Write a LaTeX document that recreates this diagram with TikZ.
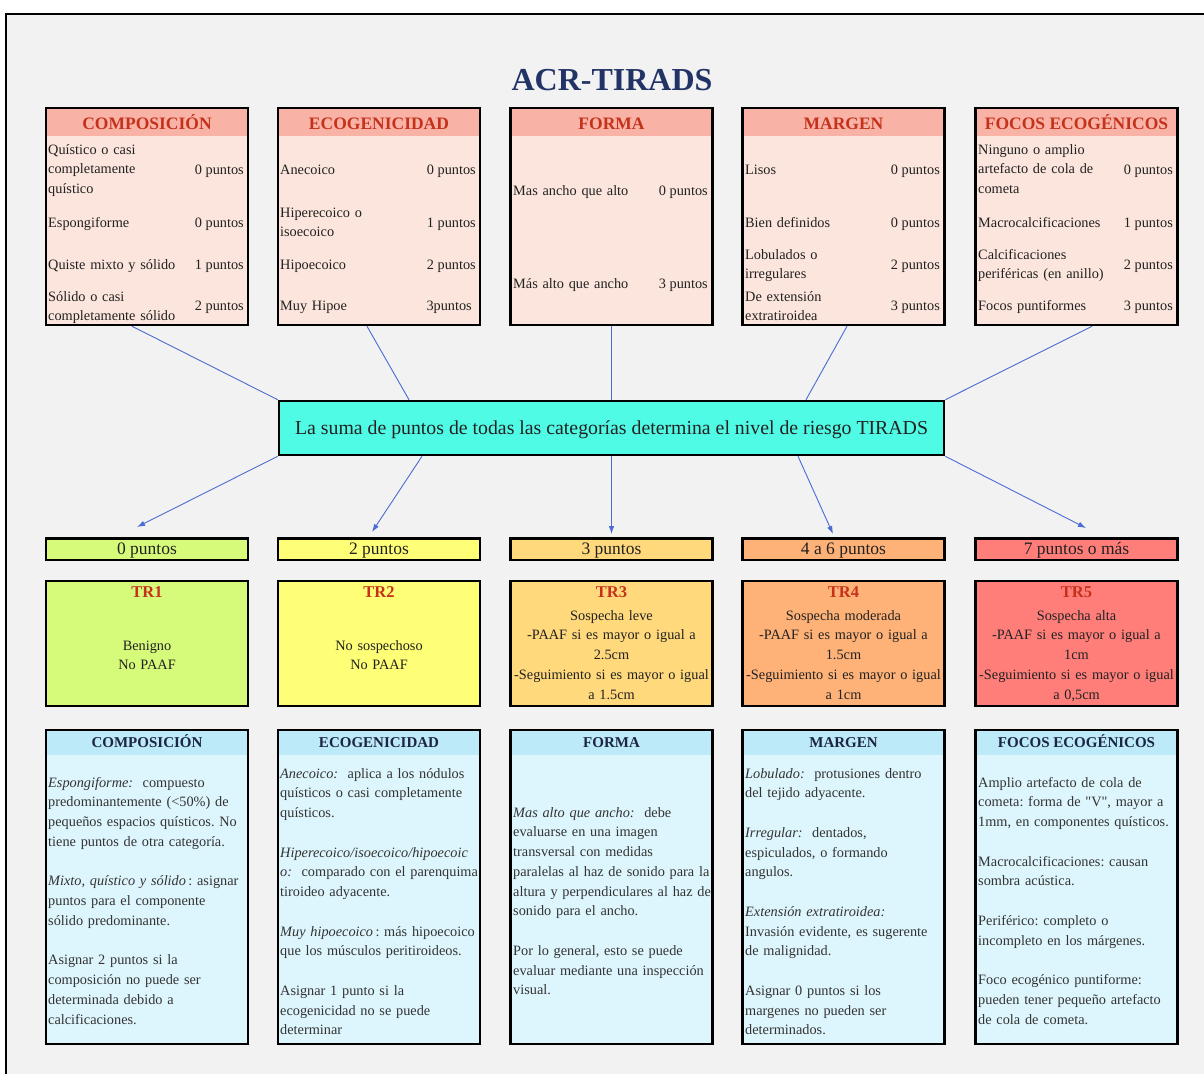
\documentclass[tikz,border=0pt]{standalone}
\usepackage{fontspec}
\setmainfont{Liberation Serif}[Ligatures=TeXOff]
\usetikzlibrary{arrows.meta}
\frenchspacing

\definecolor{bggray}{HTML}{F2F2F2}
\definecolor{cathead}{HTML}{F9B3A6}
\definecolor{catbody}{HTML}{FBE5DC}
\definecolor{hdred}{HTML}{C5321C}
\definecolor{titlenavy}{HTML}{223466}
\definecolor{sumcyan}{HTML}{50FBE6}
\definecolor{linkblue}{HTML}{4A6CD4}
\definecolor{trgreen}{HTML}{D6FB7B}
\definecolor{tryellow}{HTML}{FFFF77}
\definecolor{trlorange}{HTML}{FFD97C}
\definecolor{trorange}{HTML}{FFB277}
\definecolor{trred}{HTML}{FF7E7A}
\definecolor{deschead}{HTML}{BDEAF8}
\definecolor{descbody}{HTML}{DDF5FC}
\definecolor{descnavy}{HTML}{1C2541}
\definecolor{descgray}{HTML}{333333}

\newcommand\bodyfont{\fontsize{14.3}{19.75}\selectfont}

\begin{document}
\begin{tikzpicture}[x=1pt,y=-1pt,
    catbox/.style={draw=black,line width=2.5pt,fill=catbody,inner sep=0pt,
      minimum width=202pt,minimum height=217pt,
      path picture={\fill[cathead] (path picture bounding box.north west)
        rectangle ([yshift=-28pt]path picture bounding box.north east);}},
    cattitle/.style={font=\fontsize{17.5}{20}\selectfont\bfseries,text=hdred,anchor=base,inner sep=0pt},
    rowl/.style={font=\bodyfont,text width=175pt,align=left,anchor=base west,inner sep=0pt,text=black!87},
    rowr/.style={font=\bodyfont,anchor=base east,inner sep=0pt,text=black!87},
    sumbox/.style={draw=black,line width=2.5pt,fill=sumcyan,minimum width=665pt,minimum height=54pt,
      font=\fontsize{19.8}{22}\selectfont,text=black!87,text height=14pt,text depth=2pt},
    link/.style={draw=linkblue,line width=0.9pt},
    arr/.style={link,-{Latex[length=8pt,width=5.5pt]}},
    ptbox/.style={draw=black,line width=2.5pt,minimum width=202pt,minimum height=21.5pt,inner sep=0pt,
      font=\fontsize{17.5}{20}\selectfont,text=black!87,text height=12.5pt,text depth=2.5pt},
    trbox/.style={draw=black,line width=2.5pt,minimum width=202pt,minimum height=125pt},
    trtitle/.style={font=\fontsize{16.5}{20}\selectfont\bfseries,text=hdred,anchor=base,inner sep=0pt},
    trtxt/.style={font=\bodyfont,text width=210pt,align=center,anchor=base,inner sep=0pt,text=black!87},
    descbox/.style={draw=black,line width=2.5pt,fill=descbody,inner sep=0pt,
      minimum width=202pt,minimum height=314pt,
      path picture={\fill[deschead] (path picture bounding box.north west)
        rectangle ([yshift=-25pt]path picture bounding box.north east);}},
    desctitle/.style={font=\fontsize{15}{18}\selectfont\bfseries,text=descnavy,anchor=base,inner sep=0pt},
    desctxt/.style={font=\bodyfont,text width=205pt,align=left,anchor=base west,inner sep=0pt,text=descgray}]

  \useasboundingbox (0,0) rectangle (1204,1074);
  \fill[bggray] (6,14) rectangle (1204,1074);
  \draw[line width=1.5pt] (6,1074) -- (6,14) -- (1204,14);

  \node[font=\fontsize{32}{36}\selectfont\bfseries,text=titlenavy,anchor=base] (title) at (612,90) {ACR-TIRADS};

  % categories
  \foreach \nm/\cx/\ttl in {comp/147/COMPOSICIÓN,ecog/379/ECOGENICIDAD,forma/611.5/FORMA,
      margen/843.5/MARGEN,focos/1076.5/FOCOS ECOGÉNICOS}{
    \node[catbox] (\nm) at (\cx,216.5) {};
    \node[cattitle] at (\cx,129) {\ttl};
  }

  \node[rowl] at (48,154) {Quístico o casi\\completamente\\quístico};
  \node[rowr] at (244,174) {0 puntos};
  \node[rowl] at (48,227) {Espongiforme};
  \node[rowr] at (244,227) {0 puntos};
  \node[rowl] at (48,269) {Quiste mixto y sólido};
  \node[rowr] at (244,269) {1 puntos};
  \node[rowl] at (48,301) {Sólido o casi\\completamente sólido};
  \node[rowr] at (244,310) {2 puntos};

  \node[rowl] at (280,174) {Anecoico};
  \node[rowr] at (476,174) {0 puntos};
  \node[rowl] at (280,217) {Hiperecoico o\\isoecoico};
  \node[rowr] at (476,227) {1 puntos};
  \node[rowl] at (280,269) {Hipoecoico};
  \node[rowr] at (476,269) {2 puntos};
  \node[rowl] at (280,310) {Muy Hipoe};
  \node[rowr] at (472,310) {3puntos};

  \node[rowl] at (513,195) {Mas ancho que alto};
  \node[rowr] at (708,195) {0 puntos};
  \node[rowl] at (513,288) {Más alto que ancho};
  \node[rowr] at (708,288) {3 puntos};

  \node[rowl] at (745,174) {Lisos};
  \node[rowr] at (940,174) {0 puntos};
  \node[rowl] at (745,227) {Bien definidos};
  \node[rowr] at (940,227) {0 puntos};
  \node[rowl] at (745,259) {Lobulados o\\irregulares};
  \node[rowr] at (940,269) {2 puntos};
  \node[rowl] at (745,301) {De extensión\\extratiroidea};
  \node[rowr] at (940,310) {3 puntos};

  \node[rowl] at (978,154) {Ninguno o amplio\\artefacto de cola de\\cometa};
  \node[rowr] at (1173,174) {0 puntos};
  \node[rowl] at (978,227) {Macrocalcificaciones};
  \node[rowr] at (1173,227) {1 puntos};
  \node[rowl] at (978,259) {Calcificaciones\\periféricas (en anillo)};
  \node[rowr] at (1173,269) {2 puntos};
  \node[rowl] at (978,310) {Focos puntiformes};
  \node[rowr] at (1173,310) {3 puntos};

  % sum
  \node[sumbox] (sum) at (611.5,428) {La suma de puntos de todas las categorías determina el nivel de riesgo TIRADS};

  \draw[link] ([xshift=-15pt]comp.south) -- (sum.north west);
  \draw[link] ([xshift=-12pt]ecog.south) -- ([xshift=-202.5pt]sum.north);
  \draw[link] (forma.south) -- (sum.north);
  \draw[link] ([xshift=3.5pt]margen.south) -- ([xshift=194.5pt]sum.north);
  \draw[link] ([xshift=15.5pt]focos.south) -- (sum.north east);

  % levels
  \foreach \n/\cx/\col/\pts in {1/147/trgreen/0 puntos,2/379/tryellow/2 puntos,3/611.5/trlorange/3 puntos,
      4/843.5/trorange/4 a 6 puntos,5/1076.5/trred/7 puntos o más}{
    \node[ptbox,fill=\col] (p\n) at (\cx,549) {\pts};
    \node[trbox,fill=\col] (tr\n) at (\cx,643.5) {};
    \node[trtitle] at (\cx,597.5) {TR\n};
  }

  \draw[arr] (sum.south west) -- ([shift={(-10pt,10pt)}]p1.north);
  \draw[arr] ([xshift=-189.5pt]sum.south) -- ([shift={(-7pt,5pt)}]p2.north);
  \draw[arr] (sum.south) -- ([yshift=3pt]p3.north);
  \draw[arr] ([xshift=186.5pt]sum.south) -- ([shift={(-10.5pt,3pt)}]p4.north);
  \draw[arr] (sum.south east) -- ([shift={(9.5pt,9pt)}]p5.north);

  \node[trtxt] at (147,650) {Benigno\\No PAAF};
  \node[trtxt] at (379,650) {No sospechoso\\No PAAF};
  \node[trtxt] at (611.5,620) {Sospecha leve\\-PAAF si es mayor o igual a\\2.5cm\\-Seguimiento si es mayor o igual\\a 1.5cm};
  \node[trtxt] at (843.5,620) {Sospecha moderada\\-PAAF si es mayor o igual a\\1.5cm\\-Seguimiento si es mayor o igual\\a 1cm};
  \node[trtxt] at (1076.5,620) {Sospecha alta\\-PAAF si es mayor o igual a\\1cm\\-Seguimiento si es mayor o igual\\a 0,5cm};

  % descriptions
  \foreach \nm/\cx/\ttl in {dcomp/147/COMPOSICIÓN,decog/379/ECOGENICIDAD,dforma/611.5/FORMA,
      dmargen/843.5/MARGEN,dfocos/1076.5/FOCOS ECOGÉNICOS}{
    \node[descbox] (\nm) at (\cx,887) {};
    \node[desctitle] at (\cx,747) {\ttl};
  }

  \node[desctxt] at (48,787) {\textit{Espongiforme:}\ \ compuesto\\predominantemente (<50\%) de\\pequeños espacios quísticos. No\\tiene puntos de otra categoría.\\[19.75pt]\textit{Mixto, quístico y sólido}\,: asignar\\puntos para el componente\\sólido predominante.\\[19.75pt]Asignar 2 puntos si la\\composición no puede ser\\determinada debido a\\calcificaciones.};
  \node[desctxt] at (280,778) {\textit{Anecoico:}\ \ aplica a los nódulos\\quísticos o casi completamente\\quísticos.\\[19.75pt]\textit{Hiperecoico/isoecoico/hipoecoic}\\\textit{o:}\ \ comparado con el parenquima\\tiroideo adyacente.\\[19.75pt]\textit{Muy hipoecoico}\,: más hipoecoico\\que los músculos peritiroideos.\\[19.75pt]Asignar 1 punto si la\\ecogenicidad no se puede\\determinar};
  \node[desctxt] at (513,817) {\textit{Mas alto que ancho:}\ \ debe\\evaluarse en una imagen\\transversal con medidas\\paralelas al haz de sonido para la\\altura y perpendiculares al haz de\\sonido para el ancho.\\[19.75pt]Por lo general, esto se puede\\evaluar mediante una inspección\\visual.};
  \node[desctxt] at (745,778) {\textit{Lobulado:}\ \ protusiones dentro\\del tejido adyacente.\\[19.75pt]\textit{Irregular:}\ \ dentados,\\espiculados, o formando\\angulos.\\[19.75pt]\textit{Extensión extratiroidea:}\\Invasión evidente, es sugerente\\de malignidad.\\[19.75pt]Asignar 0 puntos si los\\margenes no pueden ser\\determinados.};
  \node[desctxt] at (978,787) {Amplio artefacto de cola de\\cometa: forma de "V", mayor a\\1mm, en componentes quísticos.\\[19.75pt]Macrocalcificaciones: causan\\sombra acústica.\\[19.75pt]Periférico: completo o\\incompleto en los márgenes.\\[19.75pt]Foco ecogénico puntiforme:\\pueden tener pequeño artefacto\\de cola de cometa.};
\end{tikzpicture}
\end{document}
